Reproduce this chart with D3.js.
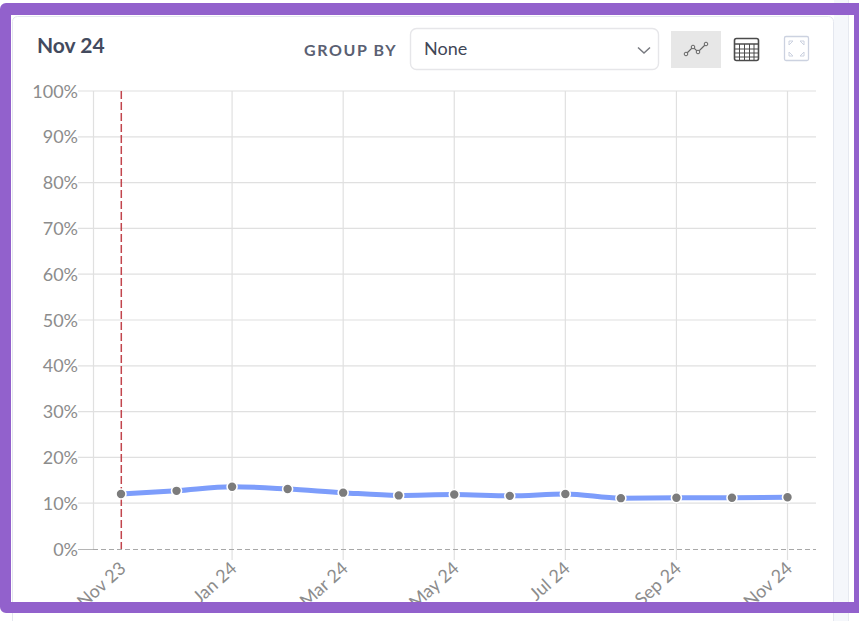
<!DOCTYPE html>
<html>
<head>
<meta charset="utf-8">
<script src="https://cdnjs.cloudflare.com/ajax/libs/d3/7.8.5/d3.min.js"></script>
<style>
html,body{margin:0;padding:0;background:#fff;}
svg{display:block;font-family:Lato,"Noto Sans",sans-serif;}
</style>
</head>
<body>
<svg id="chart" width="859" height="621"></svg>
<script>
const months = ["Nov 23","Dec 23","Jan 24","Feb 24","Mar 24","Apr 24","May 24","Jun 24","Jul 24","Aug 24","Sep 24","Oct 24","Nov 24"];
const values = [12.0,12.7,13.6,13.1,12.3,11.7,11.9,11.6,12.0,11.1,11.2,11.2,11.3];
const xTickLabels = ["Nov 23","Jan 24","Mar 24","May 24","Jul 24","Sep 24","Nov 24"];
const yTicks = [0,10,20,30,40,50,60,70,80,90,100];
const title = "Nov 24";
const groupLabel = "GROUP BY";
const groupValue = "None";

const svg = d3.select("#chart");
const x = d3.scalePoint().domain(months).range([121, 787.5]);
const y = d3.scaleLinear().domain([0, 100]).range([549, 91]);

// Page surround and card
svg.append("rect").attr("x",834).attr("y",0).attr("width",14).attr("height",621).attr("fill","#f5f7fb");
svg.append("line").attr("x1",848.5).attr("x2",848.5).attr("y1",0).attr("y2",621).attr("stroke","#e6e9f0");
svg.append("rect").attr("x",12.5).attr("y",16.5).attr("width",821).attr("height",640).attr("rx",5)
  .attr("fill","#fff").attr("stroke","#e4e7ef");

// Header
svg.append("text").attr("x",37).attr("y",53).attr("font-size",21).attr("font-weight",700).attr("fill","#434a5e").text(title);
svg.append("text").attr("x",304).attr("y",56).attr("font-size",16).attr("font-weight",700).attr("letter-spacing",1.6).attr("fill","#5a6072").text(groupLabel);
svg.append("rect").attr("x",410.5).attr("y",28.5).attr("width",248).attr("height",41).attr("rx",6).attr("fill","#fff").attr("stroke","#e6e6e9").attr("stroke-width",1.4);
svg.append("text").attr("x",424).attr("y",54.5).attr("font-size",18).attr("fill","#3f4656").text(groupValue);
svg.append("path").attr("d","M638 47.5l6 5.5 6-5.5").attr("fill","none").attr("stroke","#77797f").attr("stroke-width",1.5);

// Line-view toggle
svg.append("rect").attr("x",671).attr("y",31).attr("width",50).attr("height",37).attr("fill","#e7e7e7");
const glyph = [[686,54],[693,47],[698,52],[706,44]];
svg.append("path").attr("d",d3.line()(glyph)).attr("fill","none").attr("stroke","#666").attr("stroke-width",1.2);
svg.append("g").selectAll("circle").data(glyph).join("circle")
  .attr("cx",d=>d[0]).attr("cy",d=>d[1]).attr("r",1.8).attr("fill","#e7e7e7").attr("stroke","#666");

// Table-view toggle
const tbl = svg.append("g").attr("stroke","#4b4b4b").attr("fill","none");
tbl.append("rect").attr("x",734.5).attr("y",38.5).attr("width",24).attr("height",22).attr("rx",2).attr("stroke-width",1.6);
tbl.append("line").attr("x1",734).attr("x2",759).attr("y1",44).attr("y2",44).attr("stroke-width",1.5);
[49,53,57].forEach(v=>tbl.append("line").attr("x1",735).attr("x2",758).attr("y1",v).attr("y2",v));
[739.5,744.5,749.5,754].forEach(v=>tbl.append("line").attr("x1",v).attr("x2",v).attr("y1",44).attr("y2",60));

// Expand toggle
const exp = svg.append("g").attr("stroke","#ccd2e0").attr("fill","none");
exp.append("rect").attr("x",784.5).attr("y",36.5).attr("width",24).attr("height",24).attr("rx",1.5).attr("stroke-width",1.3);
["M789 45v-4h4l-4 4","M804 45v-4h-4l4 4","M789 52v4h4l-4-4","M804 52v4h-4l4-4"].forEach(d=>exp.append("path").attr("d",d));

// Grid
const grid = svg.append("g").attr("stroke","#e0e0e0").attr("stroke-width",1.2);
grid.selectAll(".h").data(yTicks.slice(1)).join("line").attr("class","h")
  .attr("x1",78).attr("x2",816).attr("y1",d=>y(d)).attr("y2",d=>y(d));
grid.append("line").attr("x1",93.5).attr("x2",93.5).attr("y1",91).attr("y2",549);
grid.selectAll(".v").data(xTickLabels.slice(1)).join("line").attr("class","v")
  .attr("x1",d=>x(d)).attr("x2",d=>x(d)).attr("y1",91).attr("y2",560);

// Baseline and start marker
svg.append("line").attr("x1",78).attr("x2",93).attr("y1",549.5).attr("y2",549.5).attr("stroke","#b5b5b5");
svg.append("line").attr("x1",93).attr("x2",816).attr("y1",549.5).attr("y2",549.5)
  .attr("stroke","#a8a8a8").attr("stroke-dasharray","5 3");
svg.append("line").attr("x1",121.3).attr("x2",121.3).attr("y1",91).attr("y2",549)
  .attr("stroke","#c2454d").attr("stroke-width",1.5).attr("stroke-dasharray","8 3");

// Y axis labels
svg.append("g").selectAll("text").data(yTicks).join("text")
  .attr("x",78).attr("y",d=>y(d)+6.5).attr("text-anchor","end").attr("font-size",18).attr("fill","#8c8c8c")
  .text(d=>d+"%");

// X axis labels, rotated and cut off by the frame below
svg.append("g").selectAll("text").data(xTickLabels).join("text")
  .attr("text-anchor","end").attr("font-size",18).attr("fill","#8c8c8c")
  .attr("transform",d=>`translate(${x(d)+6},${570}) rotate(-42)`)
  .text(d=>d);

// Series
const line = d3.line().x((d,i)=>x(months[i])).y(d=>y(d)).curve(d3.curveMonotoneX);
svg.append("path").attr("d",line(values)).attr("fill","none").attr("stroke","#7d9dfb").attr("stroke-width",5);
svg.append("g").selectAll("circle").data(values).join("circle")
  .attr("cx",(d,i)=>x(months[i])).attr("cy",d=>y(d)).attr("r",5)
  .attr("fill","#7c7c7c").attr("stroke","#fff").attr("stroke-width",1.6);

// Outer purple frame: rounded on the left, square inner corners
svg.append("path").attr("fill-rule","evenodd").attr("fill","#9261cc")
  .attr("d","M6 3H859V613H6A6 6 0 0 1 0 607V9A6 6 0 0 1 6 3ZM11 15H854V602H11Z");
</script>
</body>
</html>
